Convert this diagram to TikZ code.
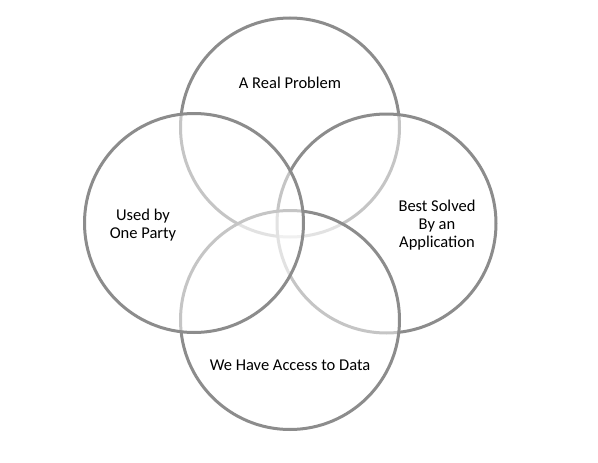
\documentclass[tikz,border=0pt]{standalone}
\usepackage{fontspec}
\setmainfont{Carlito}
\begin{document}
\begin{tikzpicture}[x=1pt,y=-1pt,
  venn/.style={circle,inner sep=0pt,minimum size=219pt,draw=black!45,line width=3pt,fill=white,fill opacity=0.5,draw opacity=1},
  lbl/.style={inner sep=0pt,align=center,font=\fontsize{16.5}{18}\selectfont,text=black}]
\useasboundingbox (0,0) rectangle (598,463);
\node[venn] (top) at (290,127.5) {};
\node[venn] (right) at (386.5,223.5) {};
\node[venn] (bottom) at (290,320) {};
\node[venn] (left) at (194,223) {};
\node[lbl] (tt) at (290,82.5) {A Real Problem};
\node[lbl] (lt) at (143,225) {Used by\\One Party};
\node[lbl] (rt) at (437,225) {Best Solved\\By an\\Application};
\node[lbl] (bt) at (290,365.5) {We Have Access to Data};
\end{tikzpicture}
\end{document}
